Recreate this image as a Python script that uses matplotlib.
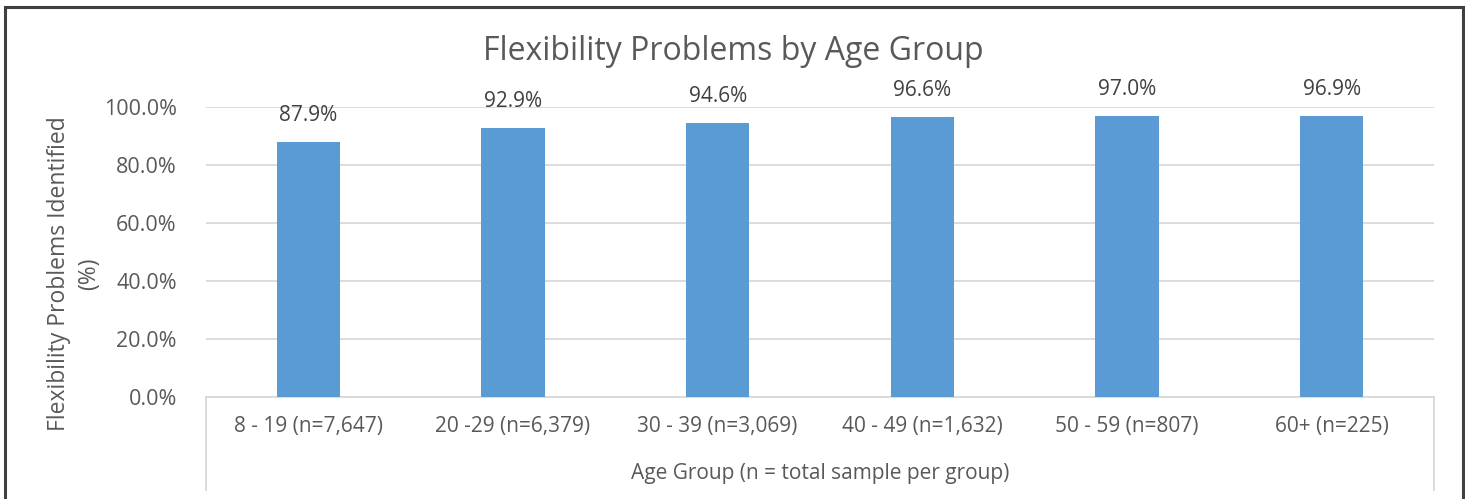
import matplotlib.pyplot as plt
from matplotlib.patches import Rectangle
from matplotlib.lines import Line2D
from matplotlib.ticker import PercentFormatter

plt.rcParams['font.family'] = ['Open Sans', 'DejaVu Sans']

age_groups = ['8 - 19 (n=7,647)', '20 -29 (n=6,379)', '30 - 39 (n=3,069)',
              '40 - 49 (n=1,632)', '50 - 59 (n=807)', '60+ (n=225)']
pct_flex = [87.9, 92.9, 94.6, 96.6, 97.0, 96.9]
y_ticks = [0, 20, 40, 60, 80, 100]

W, H = 1465, 499
fig = plt.figure(figsize=(W / 100, H / 100), dpi=100)
text_c = '#595959'

# plot area in pixel coords
x0, x1, y0, y1 = 206, 1434, 397, 107
ax = fig.add_axes([x0 / W, 1 - y0 / H, (x1 - x0) / W, (y0 - y1) / H])

xs = range(len(age_groups))
ax.bar(xs, pct_flex, width=0.31, color='#5b9bd5', zorder=3)
for x, v in zip(xs, pct_flex):
    ax.annotate(f'{v:.1f}%', (x, v), xytext=(0, 19), textcoords='offset points',
                ha='center', va='center', fontsize=15, color='#404040')

ax.set_xlim(-0.5, len(age_groups) - 0.5)
ax.set_ylim(0, 100)
ax.set_yticks(y_ticks)
ax.yaxis.set_major_formatter(PercentFormatter(decimals=1))
ax.grid(axis='y', color='#d9d9d9', lw=1.3, zorder=0)
ax.set_xticks(list(xs))
ax.set_xticklabels(age_groups)
ax.tick_params(axis='x', length=0, labelsize=15, labelcolor=text_c, pad=14)
ax.tick_params(axis='y', length=0, labelsize=15.5, labelcolor=text_c, pad=21)
for s in ['top', 'right', 'left']:
    ax.spines[s].set_visible(False)
ax.spines['bottom'].set_color('#d9d9d9')
ax.spines['bottom'].set_linewidth(1.3)

# category box edges reaching down past the axis
depth = (490 - y0) / (y0 - y1)
for xe in (0, 1):
    ax.add_line(Line2D([xe, xe], [0, -depth], transform=ax.transAxes,
                       color='#d9d9d9', lw=1.3, clip_on=False))

ax.text(0.5, -(473 - y0) / (y0 - y1), 'Age Group (n = total sample per group)',
        transform=ax.transAxes, ha='center', va='center', fontsize=15, color=text_c)

fig.text(733 / W, 1 - 52 / H, 'Flexibility Problems by Age Group',
         ha='center', va='center', fontsize=23, color=text_c)
fig.text(74 / W, 1 - 274 / H, 'Flexibility Problems Identified\n(%)',
         ha='center', va='center', rotation=90, fontsize=16.5, color=text_c,
         linespacing=1.3)

# chart frame
fig.patches.append(Rectangle((5 / W, -0.05), 1458 / W, 1 - 7 / H + 0.05,
                             transform=fig.transFigure, fill=False,
                             edgecolor='#404040', lw=2.2))

fig.savefig('out.png', dpi=100)
